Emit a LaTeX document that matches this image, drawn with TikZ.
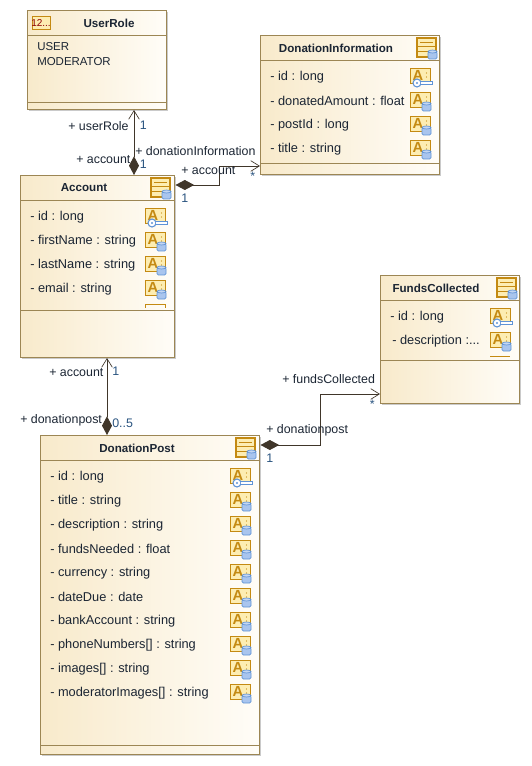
\documentclass[tikz,border=0pt]{standalone}
\usepackage{fontspec}
\setmainfont{Liberation Sans}
\usetikzlibrary{positioning,calc,arrows.meta,shadows}

\definecolor{umlLine}{HTML}{9C8654}
\definecolor{umlTan}{HTML}{F8EACB}
\definecolor{umlCream}{HTML}{FFFDF8}
\definecolor{umlWire}{HTML}{40362A}
\definecolor{umlText}{HTML}{1B2533}
\definecolor{umlMult}{HTML}{2A5480}
\definecolor{iconFill}{HTML}{FDEDB2}
\definecolor{iconLine}{HTML}{C48A12}
\definecolor{iconBlue}{HTML}{A9C5EE}
\definecolor{iconBlueLine}{HTML}{5F93D6}

% small glyphs, all sizes in reference pixels
\newcommand{\dbmark}[2]{%
  \draw[iconBlueLine,fill=iconBlue,line width=.5pt,rounded corners=1pt] (#1,#2+1.5) -- (#1,#2+9) -- (#1+9,#2+9) -- (#1+9,#2+1.5) -- cycle;
  \draw[iconBlueLine,fill=iconBlue!70!white,line width=.5pt] (#1+4.5,#2+1.5) ellipse [x radius=4.5,y radius=1.5];
}
\newcommand{\classicon}[2]{%
  \draw[iconLine,fill=iconFill,line width=.8pt] (#1,#2) rectangle (#1+19,#2+19);
  \draw[iconLine,line width=.6pt] (#1+3,#2+4) -- (#1+16,#2+4) (#1,#2+8) -- (#1+19,#2+8) (#1,#2+13) -- (#1+19,#2+13);
  \dbmark{#1+11}{#2+12}
}
\newcommand{\attricon}[3]{%
  \draw[iconLine,fill=iconFill,line width=.7pt] (#1,#2) rectangle (#1+20,#2+15);
  \node[iconglyph] (glyph#1x#2) at (#1+8,#2+7.5) {A};
  \fill[iconLine] (#1+16.5,#2+5) circle (.6) (#1+16.5,#2+9) circle (.6);
  \ifx#3k%
    \draw[iconBlueLine,fill=white,line width=.8pt] (#1+7,#2+15) circle (4);
    \fill[iconBlueLine] (#1+7,#2+15) circle (1.2);
    \draw[iconBlueLine,fill=white,line width=.6pt] (#1+11,#2+13.5) -- (#1+22,#2+13.5) -- (#1+22,#2+16.5) -- (#1+11,#2+16.5);
  \else
    \dbmark{#1+12}{#2+10}
  \fi
}
\newcommand{\attrow}[6]{%
  \node[attr] (#1) at (#2,#3+1) {#4};
  \attricon{#5}{#3-8}{#6}
}

\begin{document}
\begin{tikzpicture}[
        x=0.75pt, y=-0.75pt,
        every node/.style={font=\fontsize{9.3pt}{11pt}\selectfont, text=umlText},
        classbox/.style={rectangle, draw=umlLine, line width=.75pt, anchor=north west, inner sep=0pt, left color=umlTan, right color=umlCream, drop shadow={shadow xshift=1.2pt, shadow yshift=-1.2pt, opacity=.35, fill=black!60}},
        divider/.style={draw=umlLine, line width=.7pt},
        title/.style={font=\fontsize{8.7pt}{11pt}\selectfont\bfseries},
        attr/.style={anchor=west, inner sep=0pt, font=\fontsize{9.6pt}{11pt}\selectfont},
        literal/.style={anchor=west, inner sep=0pt, font=\fontsize{8.6pt}{11pt}\selectfont},
        role/.style={inner sep=0pt, anchor=west},
        mult/.style={inner sep=0pt, anchor=west, text=umlMult},
        iconglyph/.style={font=\fontsize{11pt}{11pt}\selectfont\bfseries, text=iconLine, inner sep=0pt},
        comp/.style={draw=umlWire, line width=.7pt, {Diamond[length=14pt,width=7.5pt,fill=umlWire]}-{Straight Barb[length=6.5pt,width=8pt,line width=.5pt]}}
        ]
        \useasboundingbox (0,0) rectangle (531,766);

        % class boxes
        \node[classbox, minimum width=104.25pt, minimum height=74.25pt] (userRole) at (27,10) {};
        \node[classbox, minimum width=134.25pt, minimum height=104.25pt] (donationInfo) at (260,35) {};
        \node[classbox, minimum width=115.5pt, minimum height=136.5pt] (account) at (20,175) {};
        \node[classbox, minimum width=104.25pt, minimum height=96pt] (fundsCollected) at (380,275) {};
        \node[classbox, minimum width=164.25pt, minimum height=239.25pt] (donationPost) at (40,435) {};

        % compartments
        \draw[divider] (27,35) -- (166,35) (27,102) -- (166,102);
        \draw[divider] (260,60) -- (439,60) (260,163) -- (439,163);
        \draw[divider] (20,200) -- (174,200) (20,310) -- (174,310);
        \draw[divider] (380,300) -- (519,300) (380,360) -- (519,360);
        \draw[divider] (40,460) -- (259,460) (40,745) -- (259,745);

        % titles
        \node[title] (userRoleTitle) at (109,23) {UserRole};
        \node[title] (donationInfoTitle) at (336,48) {DonationInformation};
        \node[title] (accountTitle) at (84,188) {Account};
        \node[title] (fundsTitle) at (436,288) {FundsCollected};
        \node[title] (postTitle) at (137,448) {DonationPost};

        % header icons
        \draw[iconLine,fill=iconFill,line width=.7pt] (32,16) rectangle (50,29);
        \node[inner sep=0pt, font=\fontsize{7.5pt}{8pt}\selectfont, text=red!55!black] (enumGlyph) at (41,23) {12...};
        \classicon{151}{178}
        \classicon{417}{38}
        \classicon{497}{278}
        \classicon{236}{438}

        % enum literals
        \node[literal] (literalUser) at (37,47) {USER};
        \node[literal] (literalModerator) at (37,62) {MODERATOR};

        % attributes
        \attrow{infoId}{270}{76}{- id : long}{410}{k}
        \attrow{infoAmount}{270}{100}{- donatedAmount : float}{410}{d}
        \attrow{infoPost}{270}{124}{- postId : long}{410}{d}
        \attrow{infoTitle}{270}{148}{- title : string}{410}{d}

        \attrow{accId}{30}{216}{- id : long}{145}{k}
        \attrow{accFirst}{30}{240}{- firstName : string}{145}{d}
        \attrow{accLast}{30}{264}{- lastName : string}{145}{d}
        \attrow{accEmail}{30}{288}{- email : string}{145}{d}
        \draw[iconLine,line width=.7pt] (145,307.5) |- (165,304.5) -- (165,307.5);

        \attrow{fundsId}{390}{316}{- id : long}{490}{k}
        \attrow{fundsDesc}{392}{340}{- description :...}{490}{d}
        \draw[iconLine,line width=.7pt] (490,356) -- (510,356);

        \attrow{postId}{50}{476}{- id : long}{230}{k}
        \attrow{postTitleAttr}{50}{500}{- title : string}{230}{d}
        \attrow{postDesc}{50}{524}{- description : string}{230}{d}
        \attrow{postNeeded}{50}{548}{- fundsNeeded : float}{230}{d}
        \attrow{postCurrency}{50}{572}{- currency : string}{230}{d}
        \attrow{postDue}{50}{596}{- dateDue : date}{230}{d}
        \attrow{postBank}{50}{620}{- bankAccount : string}{230}{d}
        \attrow{postPhones}{50}{644}{- phoneNumbers[] : string}{230}{d}
        \attrow{postImages}{50}{668}{- images[] : string}{230}{d}
        \attrow{postModImages}{50}{692}{- moderatorImages[] : string}{230}{d}

        % connector ends on the box borders
        \coordinate (accTop) at (134,175);
        \coordinate (roleBottom) at (134,110);
        \coordinate (accRight) at (175.5,185);
        \coordinate (infoLeft) at (260,166);
        \coordinate (accBottom) at (107,358);
        \coordinate (postTop) at (107,435);
        \coordinate (postRight) at (260.5,445);
        \coordinate (fundsLeft) at (380,394);

        % associations
        \draw[comp] (accTop) -- (roleBottom);
        \draw[comp] (accRight) -- (219,185) -- (219,166) -- (infoLeft);
        \draw[comp] (postTop) -- (accBottom);
        \draw[comp] (postRight) -- (320,445) -- (320,394) -- (fundsLeft);

        % role names and multiplicities
        \node[role] (roleUserRole) at (68,126) {+ userRole};
        \node[mult] (multRole) at (139.5,125) {1};
        \node[role] (roleAccount) at (76,160) {+ account};
        \node[mult] (multAccount) at (139.5,164) {1};
        \node[role] (roleInfo) at (135,151) {+ donationInformation};
        \node[role] (roleAccountInfo) at (181,171) {+ account};
        \node[mult] (multAccInfo) at (181,198.5) {1};
        \node[mult] (multInfo) at (250,176.5) {*};
        \node[role] (roleAccountPost) at (49,373) {+ account};
        \node[mult] (multAccPost) at (112,371.5) {1};
        \node[role] (rolePost) at (20,420.5) {+ donationpost};
        \node[mult] (multPost) at (112,423) {0..5};
        \node[role] (rolePostFunds) at (266,430.5) {+ donationpost};
        \node[mult] (multPostFunds) at (266,458.5) {1};
        \node[role] (roleFunds) at (282,379.5) {+ fundsCollected};
        \node[mult] (multFunds) at (369.5,404.5) {*};
\end{tikzpicture}
\end{document}
